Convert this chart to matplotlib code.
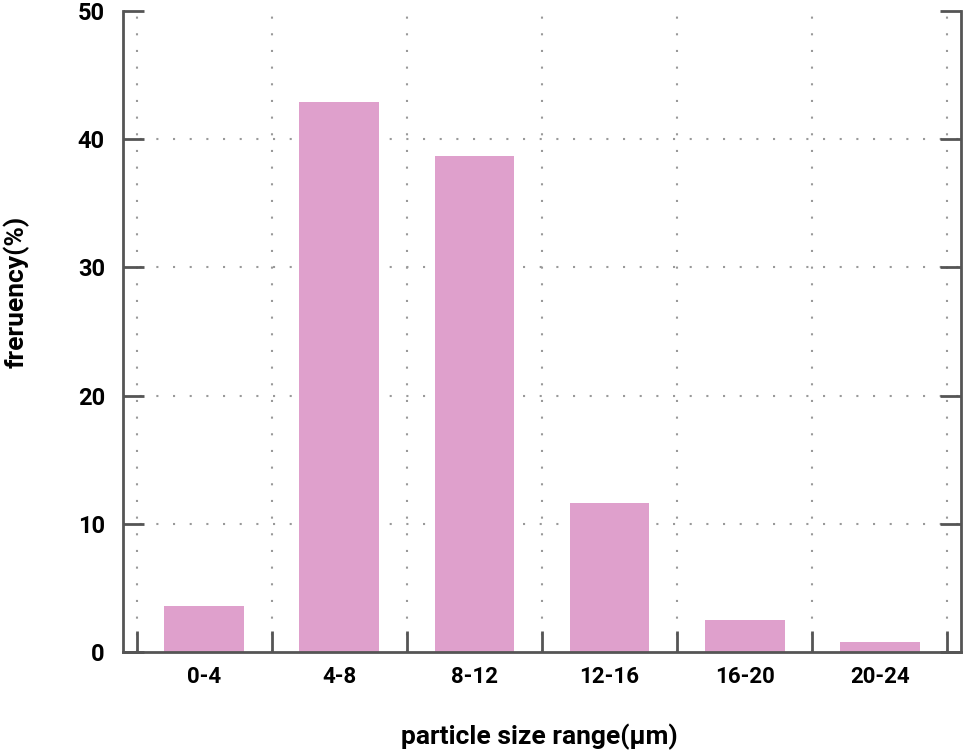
import matplotlib.pyplot as plt
import numpy as np

plt.rcParams["font.family"] = ["Roboto", "DejaVu Sans"]
plt.rcParams["font.weight"] = "bold"

categories = ["0-4", "4-8", "8-12", "12-16", "16-20", "20-24"]
frequency = [3.6, 42.9, 38.7, 11.6, 2.5, 0.8]
y_ticks = [0, 10, 20, 30, 40, 50]

bar_color = "#dfa0cc"
axis_color = "#555555"
grid_color = "#999999"

fig = plt.figure(figsize=(9.64, 7.55), dpi=100)
ax = fig.add_axes([123 / 964, 1 - 652 / 755, (961 - 123) / 964, (652 - 11) / 755])

x = np.arange(len(categories))
bounds = np.arange(len(categories) + 1) - 0.5

# dotted grid, drawn under the bars
for b in bounds:
    ax.axvline(b, color=grid_color, lw=1.5, ls=(0, (1, 7)), zorder=0)
for yv in y_ticks[1:-1]:
    ax.axhline(yv, color=grid_color, lw=1.5, ls=(0, (1, 7)), zorder=0)

ax.bar(x, frequency, width=0.59, color=bar_color, zorder=2)

ax.set_xlim(-0.6, len(categories) - 0.4)
ax.set_ylim(0, 50)

ax.spines["top"].set_visible(False)
for s in ["left", "right", "bottom"]:
    ax.spines[s].set_color(axis_color)
    ax.spines[s].set_linewidth(2)
    ax.spines[s].set_zorder(3)

# y ticks inward on both sides
ax.set_yticks(y_ticks)
ax.tick_params(axis="y", direction="in", length=15, width=2, color=axis_color,
               left=True, right=True, labelsize=17, pad=13)

# x ticks at bin boundaries, labels at bar centres
ax.set_xticks(bounds)
ax.set_xticklabels([])
ax.set_xticks(x, minor=True)
ax.set_xticklabels(categories, minor=True)
ax.tick_params(axis="x", which="major", direction="in", length=15, width=2, color=axis_color)
ax.tick_params(axis="x", which="minor", length=0, labelsize=16, pad=10)

for lab in ax.get_xticklabels(minor=True) + ax.get_yticklabels():
    lab.set_fontweight("bold")

fig.text(539 / 964, 1 - 737 / 755, "particle size range(μm)", ha="center", va="center",
         fontsize=19, fontweight="bold")
fig.text(16 / 964, 1 - 292 / 755, "freruency(%)", ha="center", va="center",
         rotation=90, fontsize=19, fontweight="bold")

fig.savefig("out.png", dpi=100)
